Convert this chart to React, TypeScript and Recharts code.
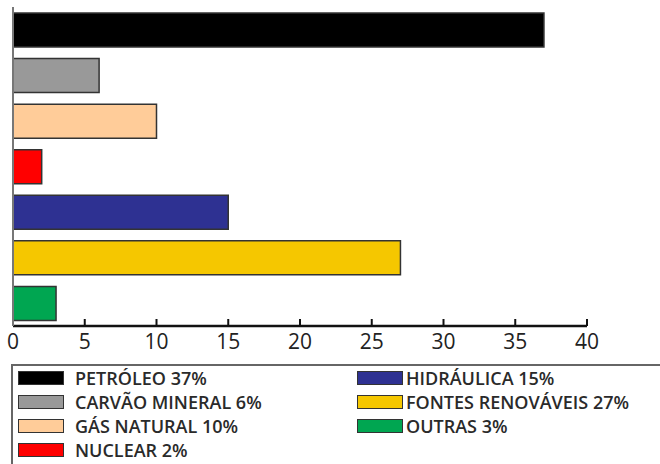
import React from "react";
import { BarChart, Bar, XAxis, YAxis, Cell } from "recharts";

// Matriz energética: participação de cada fonte (%)
const sources = [
  "PETRÓLEO",
  "CARVÃO MINERAL",
  "GÁS NATURAL",
  "NUCLEAR",
  "HIDRÁULICA",
  "FONTES RENOVÁVEIS",
  "OUTRAS",
];
const shares = [37, 6, 10, 2, 15, 27, 3];
const colors = ["#000000", "#999999", "#FFCC99", "#FF0000", "#2E3192", "#F5C700", "#00A651"];
const xTicks = [0, 5, 10, 15, 20, 25, 30, 35, 40];

// legend columns, by index into sources
const legendLeft = [0, 1, 2, 3];
const legendRight = [4, 5, 6];

const data = sources.map((name, i) => ({ name, value: shares[i], color: colors[i] }));

const FONT = "'Open Sans', sans-serif";

const LegendItem = ({ index, gap }: { index: number; gap: number }) => (
  <div style={{ display: "flex", alignItems: "center", height: 24 }}>
    <div
      style={{
        width: 44,
        height: 12,
        background: colors[index],
        border: "1.5px solid #333",
        marginRight: gap,
        flexShrink: 0,
      }}
    />
    <span style={{ fontSize: 18, fontWeight: 600, color: "#2a2a2a", whiteSpace: "nowrap" }}>
      {sources[index]} {shares[index]}%
    </span>
  </div>
);

const App = () => {
  return (
    <div
      style={{
        position: "absolute",
        left: 0,
        top: 0,
        width: 660,
        height: 464,
        background: "#fff",
        overflow: "hidden",
        fontFamily: FONT,
      }}
    >
      <BarChart
        width={660}
        height={360}
        data={data}
        layout="vertical"
        margin={{ top: 7, right: 73, left: 12, bottom: 0 }}
        barSize={34}
      >
        <XAxis
          type="number"
          domain={[0, 40]}
          ticks={xTicks}
          axisLine={{ stroke: "#111", strokeWidth: 2.5 }}
          tickLine={{ stroke: "#111", strokeWidth: 2 }}
          tickSize={-7}
          tickMargin={15}
          height={34}
          tick={{ fill: "#222", fontSize: 21, fontFamily: FONT }}
        />
        <YAxis
          type="category"
          dataKey="name"
          width={1}
          tick={false}
          tickLine={false}
          axisLine={{ stroke: "#777", strokeWidth: 2 }}
        />
        <Bar dataKey="value" stroke="#333" strokeWidth={1.5} isAnimationActive={false}>
          {data.map((d, i) => (
            <Cell key={`cell-${i}`} fill={d.color} />
          ))}
        </Bar>
      </BarChart>

      {/* legend box, open on the right and bottom */}
      <div
        style={{
          position: "absolute",
          left: 11,
          top: 364,
          width: 660,
          height: 120,
          borderTop: "2px solid #666",
          borderLeft: "2px solid #666",
        }}
      >
        <div style={{ position: "absolute", left: 5, top: 0 }}>
          {legendLeft.map((i) => (
            <LegendItem key={i} index={i} gap={11} />
          ))}
        </div>
        <div style={{ position: "absolute", left: 344, top: 0 }}>
          {legendRight.map((i) => (
            <LegendItem key={i} index={i} gap={3} />
          ))}
        </div>
      </div>
    </div>
  );
};

export default App;
